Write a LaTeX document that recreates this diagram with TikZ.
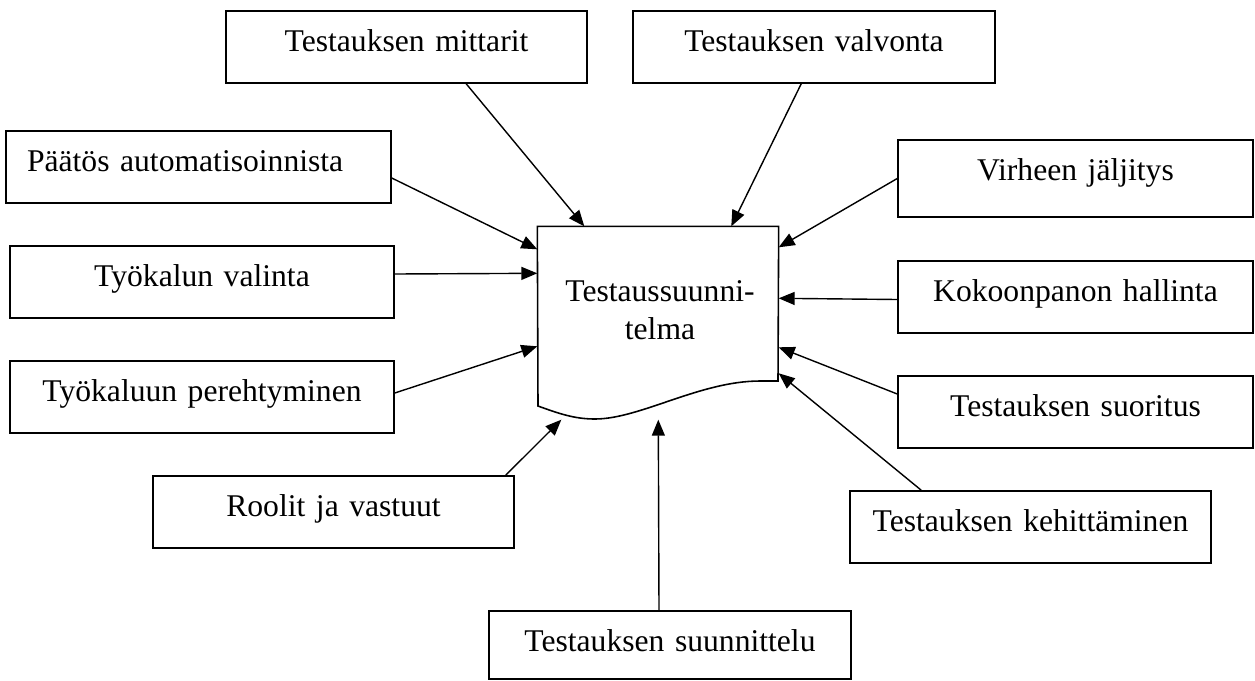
\documentclass[tikz,border=0pt]{standalone}
\usepackage{fontspec}
\setmainfont{Liberation Serif}
\usetikzlibrary{arrows.meta}

\begin{document}
\begin{tikzpicture}[
  x=0.02cm, y=-0.02cm,
  line width=0.8pt,
  box/.style={rectangle, draw, line width=0.9pt, inner xsep=0pt, inner ysep=0pt, text height=0.8cm, text depth=0.64cm, align=center, font=\fontsize{18}{21.6}\selectfont},
  >={Triangle[length=0.32cm, width=0.26cm]},
]
  \useasboundingbox (0,0) rectangle (1255,680);

  \node[box, text width=7.22cm] (mittarit) at (406.5,47) {Testauksen mittarit};
  \node[box, text width=7.24cm] (valvonta) at (814,47) {Testauksen valvonta};
  \node[box, text width=6.86cm, inner xsep=0.42cm, align=left] (paatos) at (198.5,167) {Päätös automatisoinnista};
  \node[box, text width=7.68cm] (valinta) at (202,282) {Työkalun valinta};
  \node[box, text width=7.68cm] (perehtyminen) at (202,397) {Työkaluun perehtyminen};
  \node[box, text width=7.22cm] (roolit) at (333.5,512) {Roolit ja vastuut};
  \node[box, text width=7.24cm, text depth=0.56cm] (suunnittelu) at (670,645) {Testauksen suunnittelu};
  \node[box, text width=7.1cm, text depth=0.74cm] (virhe) at (1075.5,178.5) {Virheen jäljitys};
  \node[box, text width=7.1cm] (kokoonpano) at (1075.5,297) {Kokoonpanon hallinta};
  \node[box, text width=7.1cm] (suoritus) at (1075.5,412) {Testauksen suoritus};
  \node[box, text width=7.22cm] (kehitys) at (1030.5,527) {Testauksen kehittäminen};

  % document shape in the middle
  \node[minimum width=4.8cm, minimum height=3.84cm, inner sep=0pt] (doc) at (658,323) {};
  \draw[line width=0.9pt] (doc.north west) -- (doc.north east) -- (778,381) -- (760,381)
    .. controls (700,381) and (640,419) .. (595,419)
    .. controls (575,419) and (560,414) .. (538,406) -- cycle;
  \node[align=center, inner sep=0pt, font=\fontsize{18}{21.6}\selectfont] (doctext) at (660,310) {Testaussuunni-\\telma};

  \draw[->] ([xshift=4.82cm]mittarit.south west) -- ([xshift=0.94cm]doc.north west);
  \draw[->] ([xshift=3.38cm]valvonta.south west) -- ([xshift=3.88cm]doc.north west);
  \draw[->] ([yshift=-0.22cm]paatos.east) -- ([yshift=-0.46cm]doc.north west);
  \draw[->] ([yshift=0.16cm]valinta.east) -- ([yshift=-0.94cm]doc.north west);
  \draw[->] ([yshift=0.08cm]perehtyminen.east) -- ([yshift=-2.4cm]doc.north west);
  \draw[->] ([xshift=-0.18cm]roolit.north east) -- ([xshift=0.48cm]doc.south west);
  \draw[->] ([xshift=-0.22cm]suunnittelu.north) -- ([xshift=2.42cm]doc.south west);
  \draw[->] (virhe.west) -- ([yshift=-0.42cm]doc.north east);
  \draw[->] ([yshift=-0.05cm]kokoonpano.west) -- ([yshift=-1.44cm]doc.north east);
  \draw[->] ([yshift=0.36cm]suoritus.west) -- ([yshift=-2.42cm]doc.north east);
  \draw[->] ([xshift=1.44cm]kehitys.north west) -- ([yshift=-2.94cm]doc.north east);
\end{tikzpicture}
\end{document}
